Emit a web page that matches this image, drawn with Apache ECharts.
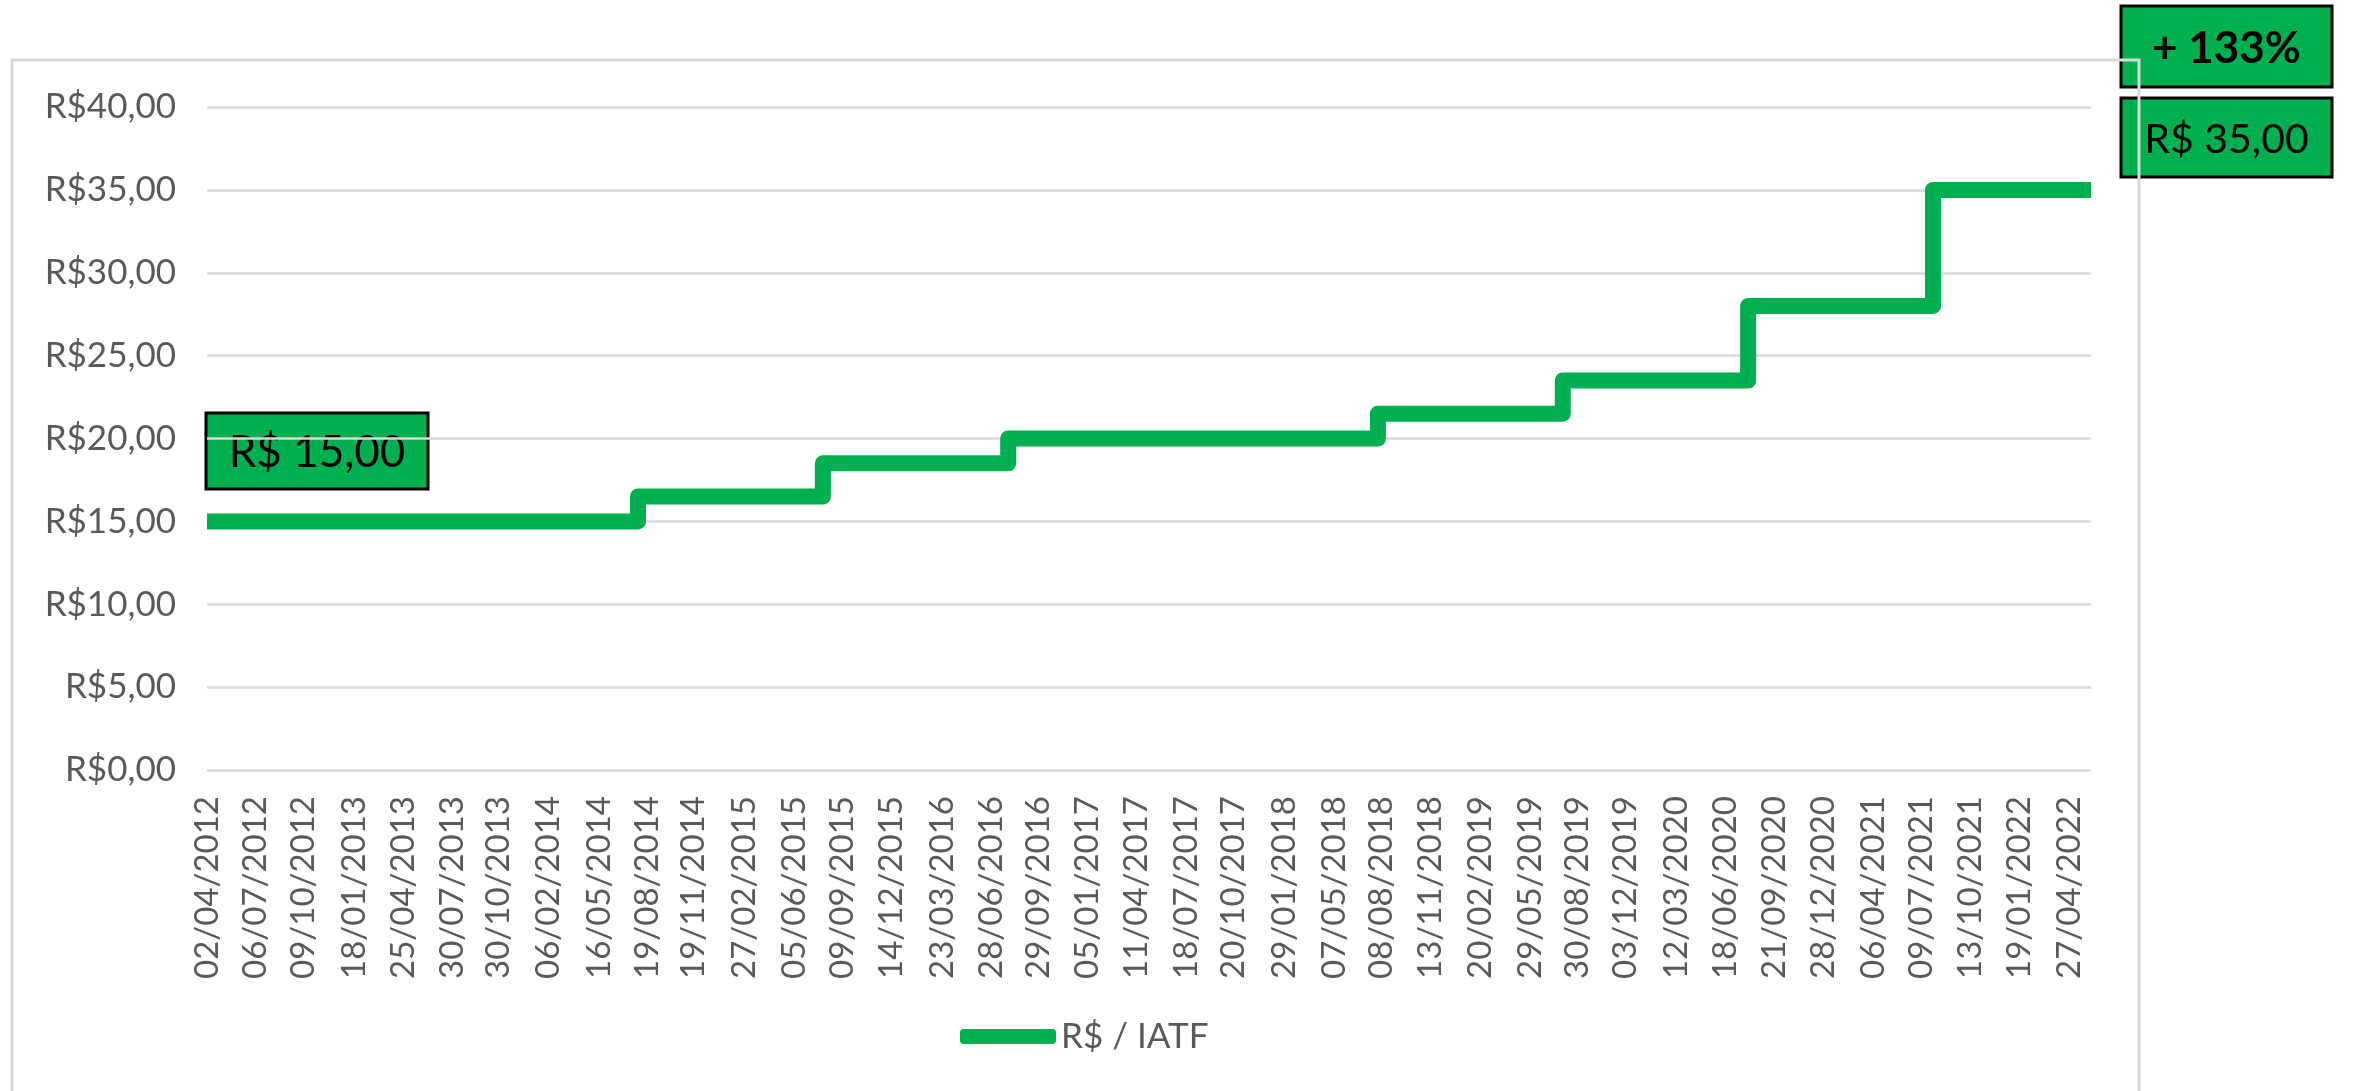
<!DOCTYPE html>
<html>
<head>
<meta charset="utf-8">
<title>R$ / IATF</title>
<script src="https://cdn.jsdelivr.net/npm/echarts@6/dist/echarts.min.js"></script>
<style>
  html, body { margin: 0; padding: 0; background: #fff; }
  #chart { width: 2354px; height: 1091px; }
</style>
</head>
<body>
<div id="chart"></div>
<script>
const seriesName = 'R$ / IATF'

// preço por IATF: data da mudança -> valor (último ponto = fim da série)
const priceDates = ['02/04/2012', '01/08/2014', '01/08/2015', '01/08/2016', '01/08/2018', '01/08/2019', '01/08/2020', '01/08/2021', '09/06/2022']
const priceValues = [15, 16.5, 18.5, 20, 21.5, 23.5, 28, 35, 35]

// rótulos do eixo x, como aparecem no gráfico
const xLabels = [
  '02/04/2012', '06/07/2012', '09/10/2012', '18/01/2013', '25/04/2013', '30/07/2013', '30/10/2013',
  '06/02/2014', '16/05/2014', '19/08/2014', '19/11/2014', '27/02/2015', '05/06/2015', '09/09/2015',
  '14/12/2015', '23/03/2016', '28/06/2016', '29/09/2016', '05/01/2017', '11/04/2017', '18/07/2017',
  '20/10/2017', '29/01/2018', '07/05/2018', '08/08/2018', '13/11/2018', '20/02/2019', '29/05/2019',
  '30/08/2019', '03/12/2019', '12/03/2020', '18/06/2020', '21/09/2020', '28/12/2020', '06/04/2021',
  '09/07/2021', '13/10/2021', '19/01/2022', '27/04/2022',
]

const yMin = 0
const yMax = 40
const yStep = 5

const green = '#00B050'
const gray = '#595959'
const gridColor = '#D9D9D9'
const font = 'Lato, "Open Sans", sans-serif'

function parseBR(s) {
  const [d, m, y] = s.split('/').map(Number)
  return new Date(y, m - 1, d).getTime()
}

function money(v, sep) {
  return 'R$' + sep + v.toFixed(2).replace('.', ',')
}

const labelTimes = xLabels.map(parseBR)
const labelByTime = {}
labelTimes.forEach((t, i) => { labelByTime[t] = xLabels[i] })

const firstValue = priceValues[0]
const lastValue = priceValues[priceValues.length - 1]
const growth = Math.round((lastValue / firstValue - 1) * 100)

function makeBox(x, y, w, h, text, fontCss) {
  return {
    type: 'group',
    z: 100,
    children: [
      {
        type: 'rect',
        shape: { x: x, y: y, width: w, height: h },
        style: { fill: green, stroke: '#000', lineWidth: 3 },
      },
      {
        type: 'text',
        style: {
          x: x + w / 2,
          y: y + h / 2 + 2,
          text: text,
          font: fontCss,
          fill: '#000',
          align: 'center',
          verticalAlign: 'middle',
        },
      },
    ],
  }
}

const chart = echarts.init(document.getElementById('chart'))
chart.setOption({
  animation: false,
  backgroundColor: '#fff',
  textStyle: { fontFamily: font },
  grid: { left: 207, right: 263, top: 107, bottom: 321, outerBoundsMode: 'none' },
  legend: {
    data: [seriesName],
    left: 955,
    top: 1014,
    icon: 'roundRect',
    itemWidth: 96,
    itemHeight: 15,
    textStyle: { color: gray, fontSize: 35, fontFamily: font },
  },
  // eixo numérico em milissegundos (datas), rótulos só nas datas de xLabels
  xAxis: {
    type: 'value',
    min: parseBR(priceDates[0]),
    max: parseBR(priceDates[priceDates.length - 1]),
    axisLine: { show: false },
    axisTick: { show: false },
    splitLine: { show: false },
    axisLabel: {
      customValues: labelTimes,
      rotate: 90,
      margin: 26,
      color: gray,
      fontSize: 33,
      fontFamily: font,
      formatter: (v) => labelByTime[v] || '',
    },
  },
  yAxis: {
    type: 'value',
    min: yMin,
    max: yMax,
    interval: yStep,
    axisLine: { show: false },
    axisTick: { show: false },
    splitLine: { lineStyle: { color: gridColor, width: 2.5 } },
    axisLabel: {
      color: gray,
      fontSize: 35,
      fontFamily: font,
      margin: 31,
      formatter: (v) => money(v, ''),
    },
  },
  series: [
    {
      name: seriesName,
      type: 'line',
      step: 'end',
      showSymbol: false,
      data: priceDates.map((d, i) => [parseBR(d), priceValues[i]]),
      lineStyle: { color: green, width: 16, cap: 'butt', join: 'round' },
      itemStyle: { color: green },
    },
  ],
  graphic: [
    {
      type: 'rect',
      z: 1,
      shape: { x: 12, y: 60, width: 2127, height: 1100 },
      style: { fill: 'none', stroke: gridColor, lineWidth: 3 },
    },
    makeBox(206, 413, 222, 76, money(firstValue, ' '), '44px ' + font),
    makeBox(2121, 6, 211, 81, '+ ' + growth + '%', 'bold 44px ' + font),
    makeBox(2121, 98, 211, 79, money(lastValue, ' '), '41px ' + font),
  ],
})
</script>
</body>
</html>
